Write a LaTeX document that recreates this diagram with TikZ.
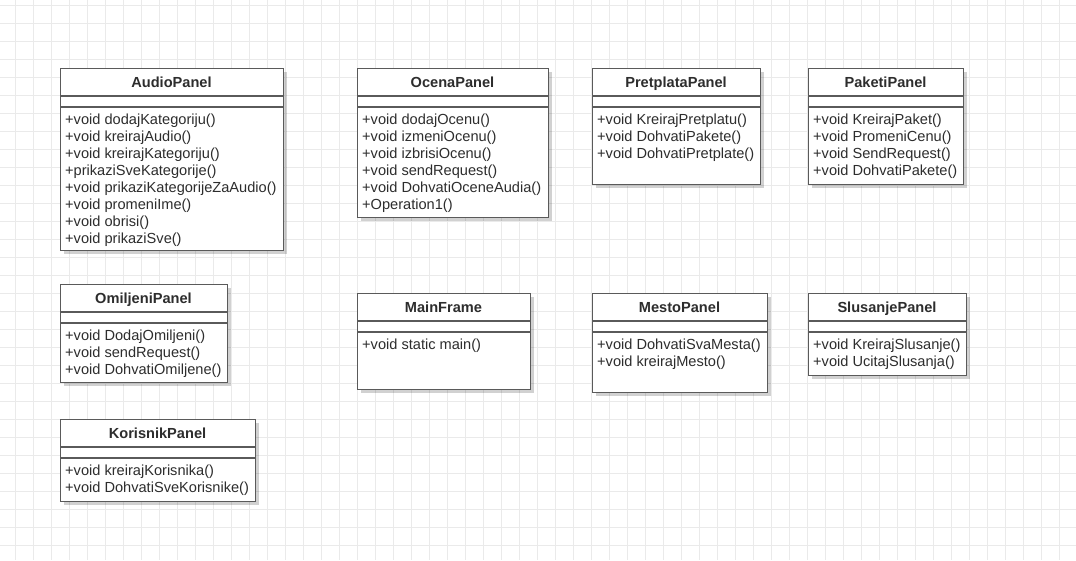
\documentclass[tikz,border=0pt]{standalone}
\usepackage{fontspec}
\setmainfont{Liberation Sans}
\usetikzlibrary{shadows}

\definecolor{gridgray}{RGB}{234,234,234}
\definecolor{boxgray}{RGB}{90,90,90}
\definecolor{textgray}{RGB}{45,45,45}

\tikzset{
  gridline/.style={draw=gridgray, line width=1pt},
  classbox/.style={draw=boxgray, line width=1.3pt, fill=white, anchor=north west, inner sep=0pt,
    drop shadow={shadow xshift=3pt, shadow yshift=-3pt, opacity=0.18, fill=black}},
  classsep/.style={draw=boxgray, line width=1.3pt},
  classtitle/.style={anchor=base, inner sep=0pt, text=textgray,
    font=\fontsize{14.6}{17}\selectfont\bfseries},
  classops/.style={anchor=north west, inner sep=0pt, align=left, text=textgray,
    font=\fontsize{14.6}{17}\selectfont},
}

% one class box: name, left, top, width, height, title, operations
\newcommand{\umlclass}[7]{%
  \node[classbox, minimum width=#4, minimum height=#5] (#1) at (#2,#3) {};
  \draw[classsep] (#2,#3+28) -- (#2+#4,#3+28);
  \draw[classsep] (#2,#3+39) -- (#2+#4,#3+39);
  \node[classtitle] (#1-title) at (#2+#4/2,#3+19.5) {#6};
  \node[classops] (#1-ops) at (#2+5,#3+45.5) {#7};
}

\begin{document}
\begin{tikzpicture}[x=1pt, y=-1pt]
    \useasboundingbox (0,0) rectangle (1076,560);
    \fill[white] (0,0) rectangle (1076,560);
    % background grid
    \foreach \gx in {15,33,...,1075}
        \draw[gridline] (\gx,0) -- (\gx,560);
    \foreach \gy in {5,23,...,559}
        \draw[gridline] (0,\gy) -- (1076,\gy);

    \umlclass{audio}{60}{68}{223}{182}{AudioPanel}{+void dodajKategoriju()\\+void kreirajAudio()\\+void kreirajKategoriju()\\+prikaziSveKategorije()\\+void prikaziKategorijeZaAudio()\\+void promeniIme()\\+void obrisi()\\+void prikaziSve()}
    \umlclass{ocena}{357}{68}{191}{149}{OcenaPanel}{+void dodajOcenu()\\+void izmeniOcenu()\\+void izbrisiOcenu()\\+void sendRequest()\\+void DohvatiOceneAudia()\\+Operation1()}
    \umlclass{pretplata}{592}{68}{168}{116}{PretplataPanel}{+void KreirajPretplatu()\\+void DohvatiPakete()\\+void DohvatiPretplate()}
    \umlclass{paketi}{808}{68}{155}{116}{PaketiPanel}{+void KreirajPaket()\\+void PromeniCenu()\\+void SendRequest()\\+void DohvatiPakete()}
    \umlclass{omiljeni}{60}{284}{167}{98}{OmiljeniPanel}{+void DodajOmiljeni()\\+void sendRequest()\\+void DohvatiOmiljene()}
    \umlclass{korisnik}{60}{419}{195}{82}{KorisnikPanel}{+void kreirajKorisnika()\\+void DohvatiSveKorisnike()}
    \umlclass{mainframe}{357}{293}{173}{96}{MainFrame}{+void static main()}
    \umlclass{mesto}{592}{293}{175}{99}{MestoPanel}{+void DohvatiSvaMesta()\\+void kreirajMesto()}
    \umlclass{slusanje}{808}{293}{158}{82}{SlusanjePanel}{+void KreirajSlusanje()\\+void UcitajSlusanja()}
\end{tikzpicture}
\end{document}
